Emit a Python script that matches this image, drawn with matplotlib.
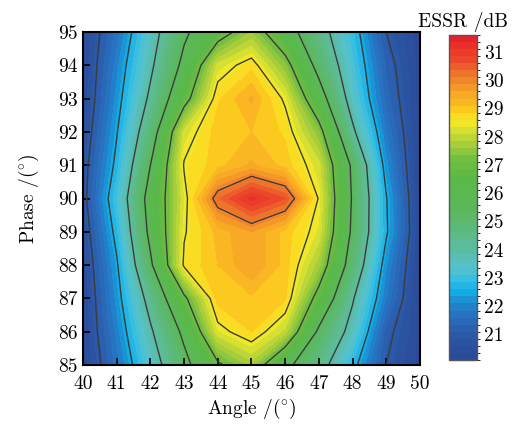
import matplotlib
matplotlib.use("Agg")
import matplotlib.pyplot as plt
import numpy as np
from matplotlib.colors import LinearSegmentedColormap, BoundaryNorm

plt.rcParams["font.family"] = ["cmr10", "DejaVu Serif"]
plt.rcParams["mathtext.fontset"] = "cm"
plt.rcParams["axes.unicode_minus"] = False

# Scan grid: incidence angle (deg) and phase (deg)
angle = [40, 41, 42, 43, 44, 45, 46, 47, 48, 49, 50]
phase = [85, 86, 87, 88, 89, 90, 91, 92, 93, 94, 95]

# ESSR (dB), one list per phase row, columns follow angle
essr_85 = [20.2, 21.7, 23.4, 25.15, 26.85, 27.7, 25.8, 24.5, 22.75, 21.0, 20.2]
essr_86 = [20.3, 21.95, 23.85, 25.75, 28.3, 28.85, 28.0, 25.3, 23.6, 21.2, 20.3]
essr_87 = [20.3, 22.2, 24.4, 26.8, 29.0, 29.05, 28.9, 26.6, 24.1, 21.85, 20.15]
essr_88 = [20.4, 22.4, 25.3, 28.6, 29.1, 29.6, 29.0, 27.7, 24.9, 22.15, 20.2]
essr_89 = [20.55, 22.75, 25.8, 28.45, 29.2, 29.6, 29.0, 28.3, 25.3, 22.6, 20.3]
essr_90 = [20.75, 23.1, 26.0, 28.3, 30.3, 31.2, 30.6, 28.45, 25.4, 22.55, 20.25]
essr_91 = [20.7, 22.7, 25.5, 28.55, 29.0, 29.4, 29.0, 28.2, 25.3, 22.2, 20.2]
essr_92 = [20.5, 22.45, 24.8, 28.2, 29.0, 29.1, 28.8, 27.4, 24.2, 21.85, 20.2]
essr_93 = [20.35, 22.2, 24.2, 26.6, 28.8, 29.4, 28.4, 26.1, 23.5, 21.5, 20.2]
essr_94 = [20.3, 22.0, 23.8, 25.8, 28.2, 28.75, 27.4, 25.1, 23.2, 21.3, 20.2]
essr_95 = [20.3, 21.7, 23.5, 25.3, 26.5, 27.6, 26.1, 24.5, 22.9, 21.0, 20.2]

line_levels = [21, 22.5, 24, 25.5, 27, 28.5, 30]
cbar_ticks = [21, 22, 23, 24, 25, 26, 27, 28, 29, 30, 31]

Z = np.array([essr_85, essr_86, essr_87, essr_88, essr_89, essr_90,
              essr_91, essr_92, essr_93, essr_94, essr_95])
A, P = np.meshgrid(angle, phase)

vmin, vmax = 20.1, 31.6
anchors = [
    (20.1, "#2b4a98"), (20.8, "#2c56a6"), (21.5, "#2a6cbc"), (22.0, "#1f88cf"),
    (22.4, "#12ace4"), (22.8, "#30bde6"), (23.3, "#55c2cc"), (23.9, "#5bbca6"),
    (24.6, "#5db980"), (25.4, "#5bb85a"), (26.5, "#5ab847"), (27.2, "#72be42"),
    (27.8, "#aacf3a"), (28.3, "#d9e132"), (28.6, "#f6e925"), (28.9, "#fdd21f"),
    (29.2, "#fbbd22"), (29.6, "#f7a526"), (30.0, "#f28a2a"), (30.4, "#ee6a2b"),
    (30.8, "#eb4a2b"), (31.6, "#e62129"),
]
cmap = LinearSegmentedColormap.from_list(
    "essr", [((v - vmin) / (vmax - vmin), c) for v, c in anchors])

fill_levels = np.linspace(vmin, vmax, 47)
norm = BoundaryNorm(fill_levels, cmap.N)

fig = plt.figure(figsize=(5.19, 4.26), dpi=100)
ax = fig.add_axes([0.160, 0.143, 0.649, 0.782])
cax = fig.add_axes([0.866, 0.155, 0.053, 0.763])

cf = ax.contourf(A, P, Z, levels=fill_levels, cmap=cmap, norm=norm)
ax.contour(A, P, Z, levels=line_levels, colors="#3c3c3c", linewidths=1.0)

ax.set_xlim(40, 50)
ax.set_ylim(85, 95)
ax.set_xticks(angle)
ax.set_yticks(phase)
ax.tick_params(direction="in", length=5, width=1.2, labelsize=14,
               top=False, right=False)
ax.tick_params(axis="x", pad=7)
ax.tick_params(axis="y", pad=4)
for s in ax.spines.values():
    s.set_linewidth(1.5)

ax.set_xlabel(r"Angle /($^{\circ}$)", fontsize=14, labelpad=3)
ax.set_ylabel(r"Phase /($^{\circ}$)", fontsize=14, labelpad=12)

cb = fig.colorbar(cf, cax=cax, ticks=cbar_ticks)
cb.outline.set_edgecolor("#555555")
cb.outline.set_linewidth(1.0)
cb.ax.tick_params(length=0, labelsize=14, pad=5)
cax.set_ylim(vmin, vmax)
cax.set_title("ESSR /dB", fontsize=14, pad=6)

fig.savefig("out.png", dpi=100)
